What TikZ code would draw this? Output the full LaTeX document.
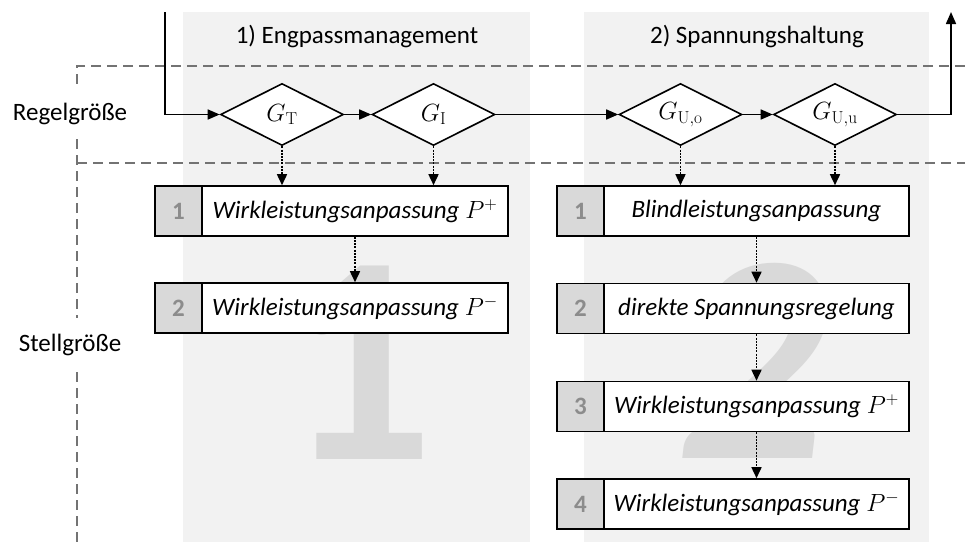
\documentclass[tikz,border=0pt]{standalone}
\usepackage[no-math]{fontspec}
\setmainfont{Carlito}
\usetikzlibrary{shapes.geometric,arrows.meta}

\definecolor{panel}{HTML}{F2F2F2}
\definecolor{wmark}{HTML}{D9D9D9}
\definecolor{numfill}{HTML}{D9D9D9}
\definecolor{numtext}{HTML}{8C8C8C}
\definecolor{sepgray}{HTML}{737373}

\begin{document}
\begin{tikzpicture}[x=1pt,y=-1pt,
  every node/.style={font=\fontsize{25}{30}\selectfont},
  gate/.style={diamond, draw, line width=1.6pt, fill=white, aspect=2,
    inner sep=0pt, minimum width=123pt, minimum height=62pt},
  actbox/.style={draw, line width=1.6pt, fill=white, minimum height=50pt,
    inner sep=0pt, font=\fontsize{25}{30}\selectfont\itshape},
  numbox/.style={draw, line width=1.6pt, fill=numfill, minimum width=47pt,
    minimum height=50pt, inner sep=0pt, text=numtext,
    font=\fontsize{25}{30}\selectfont\bfseries},
  flow/.style={line width=1.6pt, -{Triangle[length=12pt,width=10pt]}},
  seq/.style={line width=1.6pt, dash pattern=on 2pt off 1.2pt,
    -{Triangle[length=11pt,width=10pt]}},
  sepline/.style={draw=sepgray, line width=1.6pt, dash pattern=on 10pt off 6pt},
  wm/.style={text=wmark, inner sep=0pt, anchor=base},
  lbl/.style={inner sep=0pt},
]
\useasboundingbox (0,0) rectangle (965,544);

% column backgrounds
\fill[panel] (183,12) rectangle (530,542);
\fill[panel] (584,12) rectangle (929,542);

% large background digits
\node[wm, font=\fontsize{298}{298}\selectfont\bfseries] (wm1) at (358,459) {1};
\node[wm, font=\fontsize{298}{298}\selectfont\bfseries\itshape] (wm2) at (752,458) {2};

% column titles
\node[lbl] (t1) at (357,37) {1) Engpassmanagement};
\node[lbl] (t2) at (757,37) {2) Spannungshaltung};

% row labels and separators
\node[lbl, minimum height=50pt] (regel) at (70,114) {Regelgröße};
\node[lbl, minimum height=54pt] (stell) at (70,345) {Stellgröße};
\coordinate (c1) at (77,66);
\coordinate (c2) at (77,163);
\draw[sepline] (965,66) -- (c1) -- (regel.north -| c1);
\draw[sepline] (regel.south -| c1) -- (stell.north -| c1);
\draw[sepline] (stell.south -| c1) -- (77,544);
\draw[sepline] (c2) -- (965,163);

% gates
\node[gate] (GT)  at (282,114.5) {$G_{\mathrm{T}}$};
\node[gate] (GI)  at (433.5,114.5) {$G_{\mathrm{I}}$};
\node[gate] (GUo) at (680.5,114.5) {$G_{\mathrm{U,o}}$};
\node[gate] (GUu) at (835,114.5) {$G_{\mathrm{U,u}}$};

% measures, column 1
\node[numbox] (n11) at (178.5,211) {1};
\node[actbox, minimum width=306pt] (a11) at (355,211) {Wirkleistungsanpassung $P^{+}$};
\node[numbox] (n12) at (178.5,308) {2};
\node[actbox, minimum width=306pt] (a12) at (355,308) {Wirkleistungsanpassung $P^{-}$};

% measures, column 2
\node[numbox] (n21) at (580.5,211) {1};
\node[actbox, minimum width=305pt] (a21) at (756.5,211) {Blindleistungsanpassung};
\node[numbox] (n22) at (580.5,308.5) {2};
\node[actbox, minimum width=305pt] (a22) at (756.5,308.5) {direkte Spannungsregelung};
\node[numbox] (n23) at (580.5,406.5) {3};
\node[actbox, minimum width=305pt] (a23) at (756.5,406.5) {Wirkleistungsanpassung $P^{+}$};
\node[numbox] (n24) at (580.5,504) {4};
\node[actbox, minimum width=305pt] (a24) at (756.5,504) {Wirkleistungsanpassung $P^{-}$};

% main signal path
\coordinate (start) at (165,12);
\coordinate (finish) at (951,12);
\draw[flow] (start) |- (GT.west);
\draw[flow] (GT.east) -- (GI.west);
\draw[flow] (GI.east) -- (GUo.west);
\draw[flow] (GUo.east) -- (GUu.west);
\draw[flow] (GUu.east) -| (finish);

% gate to measure links
\draw[seq] (GT.south) -- (GT.south |- a11.north);
\draw[seq] (GI.south) -- (GI.south |- a11.north);
\draw[seq] (GUo.south) -- (GUo.south |- a21.north);
\draw[seq] (GUu.south) -- (GUu.south |- a21.north);

% escalation order
\draw[seq] (a11.south) -- (a12.north);
\draw[seq] (a21.south) -- (a22.north);
\draw[seq] (a22.south) -- (a23.north);
\draw[seq] (a23.south) -- (a24.north);
\end{tikzpicture}
\end{document}
